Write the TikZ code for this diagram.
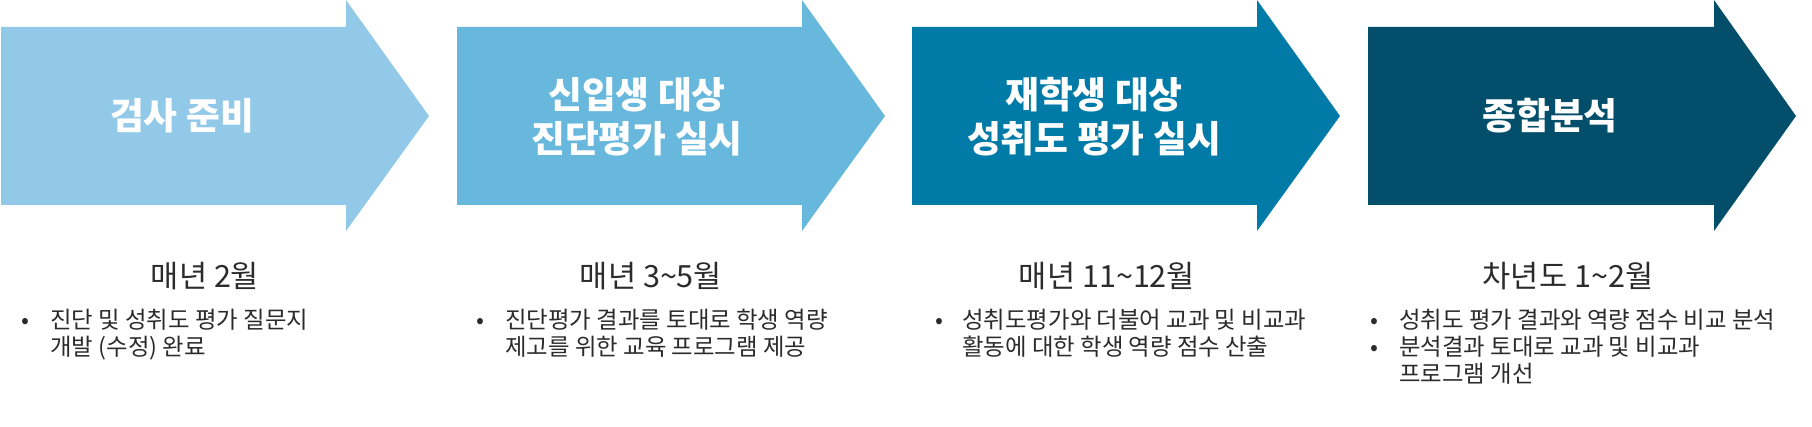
\documentclass[tikz,border=0pt]{standalone}
\usepackage{fontspec}
\setmainfont{Noto Sans CJK KR}
\definecolor{stepA}{HTML}{93C9E8}
\definecolor{stepB}{HTML}{68B8DE}
\definecolor{stepC}{HTML}{007BA8}
\definecolor{stepD}{HTML}{034F6B}
\definecolor{ink}{HTML}{2B2B2B}
\begin{document}
\begin{tikzpicture}[x=0.5pt, y=-0.5pt,
	title/.style={text=white, align=center, font=\bfseries\fontsize{18.4}{22}\selectfont},
	month/.style={text=ink, font=\fontsize{15.3}{18}\selectfont},
	item/.style={text=ink, anchor=north west, align=left, inner sep=0pt, font=\fontsize{11.7}{13.5}\selectfont},
	dot/.style={text=ink, inner sep=0pt, font=\fontsize{11.7}{13.5}\selectfont}
	]
	\useasboundingbox (0,0) rectangle (1812,427);
	
	% Arrows
	\fill[stepA] (1,27) -- (346,27) -- (346,0) -- (429,116) -- (346,231) -- (346,205) -- (1,205) -- cycle;
	\fill[stepB] (457,27) -- (802,27) -- (802,0) -- (885,116) -- (802,231) -- (802,205) -- (457,205) -- cycle;
	\fill[stepC] (912,27) -- (1257,27) -- (1257,0) -- (1340,116) -- (1257,231) -- (1257,205) -- (912,205) -- cycle;
	\fill[stepD] (1368,27) -- (1714,27) -- (1714,0) -- (1796,116) -- (1714,231) -- (1714,205) -- (1368,205) -- cycle;
	
	% Titles
	\node[title] (t1) at (182,116) {검사 준비};
	\node[title] (t2) at (637,117) {신입생 대상\\진단평가 실시};
	\node[title] (t3) at (1094,117) {재학생 대상\\성취도 평가 실시};
	\node[title] (t4) at (1550,116) {종합분석};
	
	% Months
	\node[month] (m1) at (205,276) {매년 2월};
	\node[month] (m2) at (651,276) {매년 3\textasciitilde 5월};
	\node[month] (m3) at (1107,276) {매년 11\textasciitilde 12월};
	\node[month] (m4) at (1568,276) {차년도 1\textasciitilde 2월};
	
	% Items
	\node[dot] (b1) at (25,323) {•};
	\node[item] (i1) at (50,309) {진단 및 성취도 평가 질문지\\개발 (수정) 완료};
	\node[dot] (b2) at (480,323) {•};
	\node[item] (i2) at (505,309) {진단평가 결과를 토대로 학생 역량\\제고를 위한 교육 프로그램 제공};
	\node[dot] (b3) at (939,323) {•};
	\node[item] (i3) at (962,309) {성취도평가와 더불어 교과 및 비교과\\활동에 대한 학생 역량 점수 산출};
	\node[dot] (b4) at (1374,323) {•};
	\node[item] (i4) at (1399,309) {성취도 평가 결과와 역량 점수 비교 분석};
	\node[dot] (b5) at (1374,350) {•};
	\node[item] (i5) at (1399,336) {분석결과 토대로 교과 및 비교과\\프로그램 개선};
	
\end{tikzpicture}
\end{document}
